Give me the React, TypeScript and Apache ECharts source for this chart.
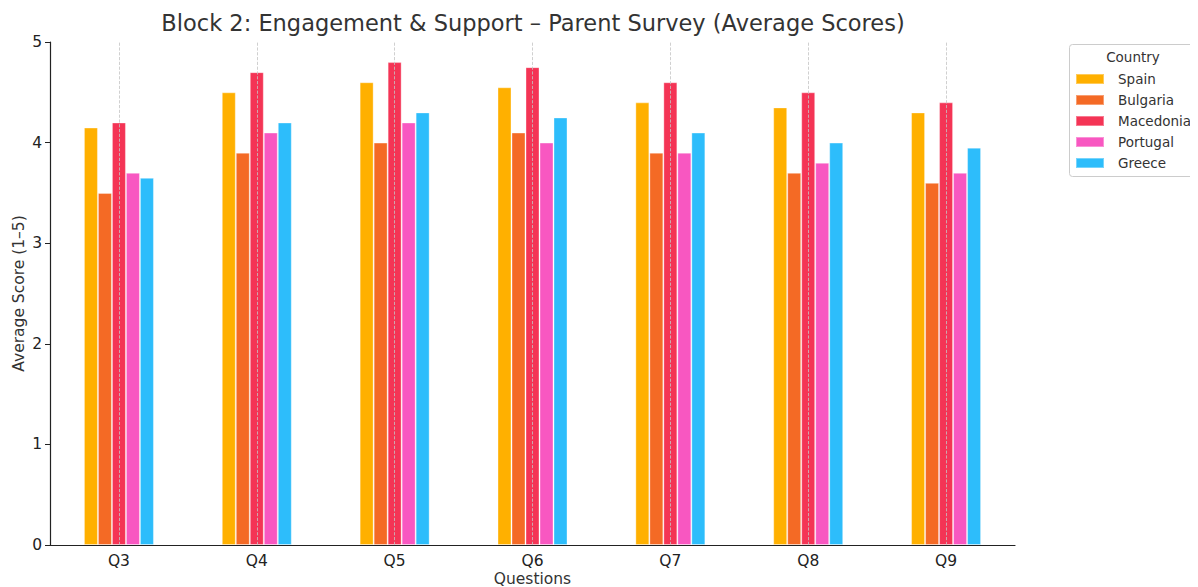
import React, { useEffect, useRef } from "react";
import * as echarts from "echarts";

const questions = ["Q3", "Q4", "Q5", "Q6", "Q7", "Q8", "Q9"];
const countries = ["Spain", "Bulgaria", "Macedonia", "Portugal", "Greece"];
const colors = ["#FFB000", "#F46A25", "#F43455", "#F857C1", "#2DBDFB"];
const spain = [4.15, 4.5, 4.6, 4.55, 4.4, 4.35, 4.3];
const bulgaria = [3.5, 3.9, 4.0, 4.1, 3.9, 3.7, 3.6];
const macedonia = [4.2, 4.7, 4.8, 4.75, 4.6, 4.5, 4.4];
const portugal = [3.7, 4.1, 4.2, 4.0, 3.9, 3.8, 3.7];
const greece = [3.65, 4.2, 4.3, 4.25, 4.1, 4.0, 3.95];
const seriesValues = [spain, bulgaria, macedonia, portugal, greece];

const FONT = "DejaVu Sans";

export default function App() {
  const ref = useRef<HTMLDivElement>(null);
  useEffect(() => {
    const chart = echarts.init(ref.current!, undefined, { renderer: "svg" });
    const barSeries = countries.map((name, i) => ({
      name,
      type: "bar",
      data: seriesValues[i],
      barWidth: 14,
      barGap: "0%",
      itemStyle: {
        color: colors[i],
        borderColor: "rgba(255,255,255,0.35)",
        borderWidth: 1,
      },
    }));
    chart.setOption({
      animation: false,
      textStyle: { fontFamily: FONT },
      title: {
        text: "Block 2: Engagement & Support – Parent Survey (Average Scores)",
        left: 520,
        top: -2,
        textAlign: "center",
        textStyle: { fontFamily: FONT, fontSize: 22.5, fontWeight: "normal", color: "#333" },
      },
      grid: { left: 42, right: 183, top: 34, bottom: 42, outerBoundsMode: "none", containLabel: false },
      legend: {
        orient: "vertical",
        left: 1067,
        top: 63,
        padding: 0,
        itemWidth: 28,
        itemHeight: 10,
        itemGap: 5,
        icon: "rect",
        data: countries,
        textStyle: { fontFamily: FONT, fontSize: 13.5, color: "#333", padding: [0, 0, 0, 9], lineHeight: 16 },
      },
      graphic: [
        {
          type: "rect",
          shape: { x: 1061.5, y: 36.5, width: 127, height: 132, r: 3 },
          style: { fill: "#fff", stroke: "#ccc", lineWidth: 1 },
          z: -1,
        },
        {
          type: "text",
          x: 1125,
          y: 42,
          style: { text: "Country", fontFamily: FONT, fontSize: 13.5, fill: "#333", textAlign: "center" },
        },
      ],
      xAxis: {
        type: "category",
        data: questions,
        name: "Questions",
        nameLocation: "middle",
        nameGap: 26,
        nameMoveOverlap: false,
        nameTextStyle: { fontFamily: FONT, fontSize: 15.5, color: "#333" },
        axisLine: { lineStyle: { color: "#222", width: 1.2 } },
        axisTick: { alignWithLabel: true, length: 5, lineStyle: { color: "#222" } },
        axisLabel: { fontFamily: FONT, fontSize: 15.5, color: "#222", margin: 8 },
        splitLine: { show: false },
      },
      yAxis: {
        type: "value",
        min: 0,
        max: 5,
        interval: 1,
        name: "Average Score (1–5)",
        nameLocation: "middle",
        nameGap: 23,
        nameMoveOverlap: false,
        nameTextStyle: { fontFamily: FONT, fontSize: 15.5, color: "#333" },
        axisLine: { show: true, lineStyle: { color: "#222", width: 1.2 } },
        axisTick: { show: true, length: 5, lineStyle: { color: "#222" } },
        axisLabel: { fontFamily: FONT, fontSize: 15.5, color: "#222", margin: 8 },
        splitLine: { show: false },
      },
      series: [
        ...barSeries,
        {
          name: "grid",
          type: "line",
          z: 10,
          data: questions.map(() => null),
          symbol: "none",
          silent: true,
          markLine: {
            silent: true,
            symbol: "none",
            label: { show: false },
            lineStyle: { color: "#c4c4c4", type: "dashed", width: 0.8 },
            data: questions.map((q) => [{ coord: [q, 0] }, { coord: [q, 5] }]),
          },
        },
      ],
    });
    return () => chart.dispose();
  }, []);
  return <div ref={ref} style={{ width: 1190, height: 579 }} />;
}
